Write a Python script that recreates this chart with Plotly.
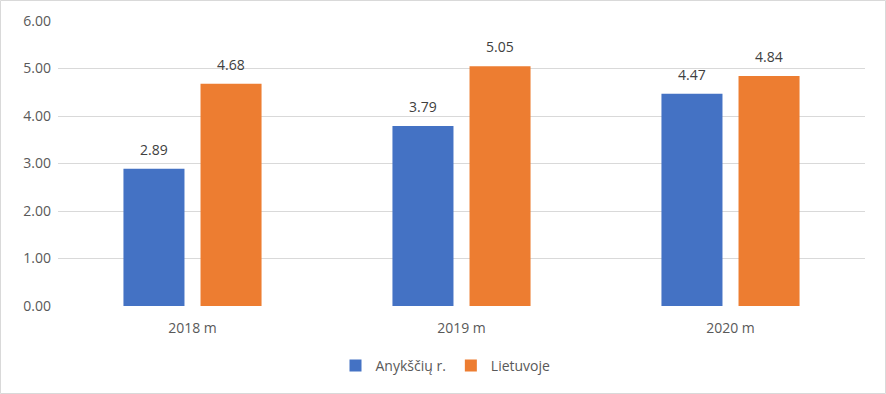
import plotly.graph_objects as go

categories = ["2018 m", "2019 m", "2020 m"]
anyksciu = [2.89, 3.79, 4.47]
lietuvoje = [4.68, 5.05, 4.84]
series_names = ["Anykščių r.", "Lietuvoje"]
y_ticks = [0, 1, 2, 3, 4, 5, 6]

W, H = 886, 394
L, R, T, B = 58, 21, 21, 88
pw, ph = W - L - R, H - T - B

font_family = "Open Sans, Lato, sans-serif"
txt_color = "#595959"
fs = 14
bargap, bargroupgap = 0.427, 0.208

cat_w = pw / len(categories)
slot = cat_w * (1 - bargap) / 2

fig = go.Figure()
annotations = []
for i, (vals, name, color) in enumerate([(anyksciu, series_names[0], "#4472C4"),
                                         (lietuvoje, series_names[1], "#ED7D31")]):
    fig.add_trace(go.Bar(x=categories, y=vals, name=name,
                         marker=dict(color=color, line=dict(width=0)),
                         hoverinfo="x+y+name"))
    shift = (i - 0.5) * slot
    for c, v in zip(categories, vals):
        annotations.append(dict(x=c, y=v, xref="x", yref="y", text=f"{v:.2f}",
                                showarrow=False, xanchor="center", yanchor="bottom",
                                xshift=shift, yshift=8,
                                font=dict(color="#404040", size=fs, family=font_family)))

fig.update_layout(
    width=W, height=H,
    margin=dict(l=L, r=R, t=T, b=B, autoexpand=False),
    paper_bgcolor="white", plot_bgcolor="white",
    barmode="group", bargap=bargap, bargroupgap=bargroupgap,
    font=dict(family=font_family, color=txt_color, size=fs),
    showlegend=True,
    legend=dict(orientation="h", x=0.5 - 16 / pw, xanchor="center", y=-0.21, yanchor="middle",
                font=dict(size=fs, color=txt_color), traceorder="normal"),
    xaxis=dict(showgrid=False, showline=False, ticks="", ticklabelstandoff=12,
               tickfont=dict(size=fs, color=txt_color)),
    yaxis=dict(range=[0, 6], tickvals=y_ticks, ticktext=[f"{v:.2f}" for v in y_ticks],
               showgrid=True, gridcolor="#d9d9d9", gridwidth=1, zeroline=False,
               showline=False, ticks="", ticklabelstandoff=6,
               tickfont=dict(size=fs, color=txt_color)),
    annotations=annotations,
    shapes=[dict(type="rect", xref="paper", yref="paper",
                 x0=(-L + 0.5) / pw, x1=1 + (R - 0.5) / pw,
                 y0=(-B + 0.5) / ph, y1=1 + (T - 0.5) / ph,
                 line=dict(color="#d9d9d9", width=1), layer="below")],
)

fig.write_html("out.html", config={"displayModeBar": False},
               post_script="document.body.style.margin='0';")
